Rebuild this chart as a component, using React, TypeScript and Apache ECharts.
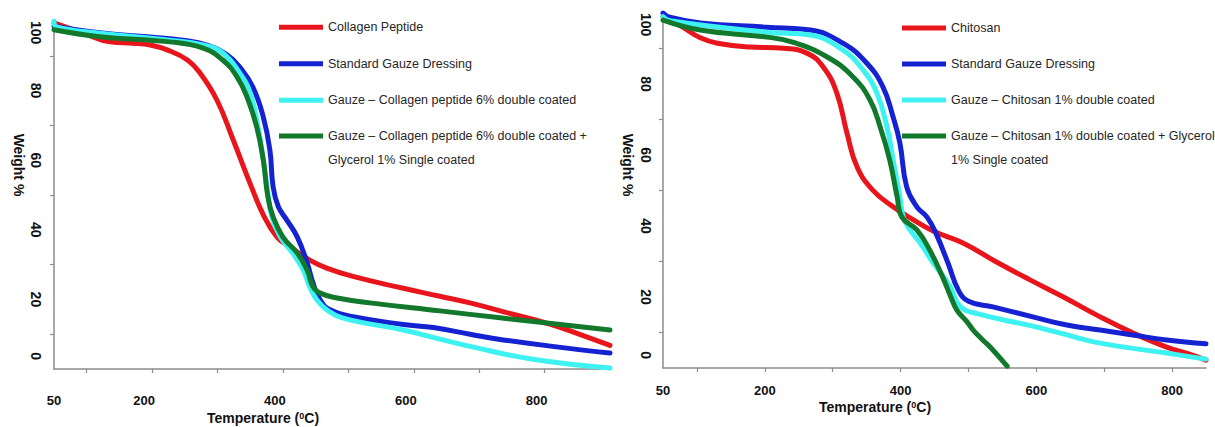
import React, { useEffect, useRef } from 'react';
import * as echarts from 'echarts';

type Pt = [number, number];

// ---- axis ticks / labels ----
const xLabelValues = [50, 200, 400, 600, 800];
const xTickValues = [100, 200, 300, 400, 500, 600, 700, 800];
const yLabelValues = [0, 20, 40, 60, 80, 100];
const yTickValues = [10, 30, 50, 70, 90];

// ---- series names ----
const leftNames = [
  'Collagen Peptide',
  'Standard Gauze Dressing',
  'Gauze – Collagen peptide 6% double coated',
  'Gauze – Collagen peptide 6% double coated + Glycerol 1% Single coated',
];
const rightNames = [
  'Chitosan',
  'Standard Gauze Dressing',
  'Gauze – Chitosan 1% double coated',
  'Gauze – Chitosan 1% double coated + Glycerol 1% Single coated',
];
const leftGreenLines = ['Gauze – Collagen peptide 6% double coated +', 'Glycerol 1% Single coated'];
const rightGreenLines = ['Gauze – Chitosan 1% double coated + Glycerol', '1% Single coated'];

// ---- left chart: Collagen peptide (temperature °C, weight %) ----
const leftRed: Pt[] = [
  [50, 99.5], [94, 96.6], [136, 94.0], [171, 93.6], [197, 93.1], [223, 91.7], [254, 88.8],
  [273, 85.1], [299, 77.3], [324, 65.8], [350, 53.2], [370, 44.3], [391, 37.9], [411, 35.1],
  [441, 31.3], [467, 29.0], [507, 26.6], [584, 23.2], [640, 20.9], [686, 19.0], [750, 15.8],
  [808, 12.9], [860, 9.5], [900, 6.8],
];
const leftBlue: Pt[] = [
  [50, 98.5], [120, 96.6], [197, 95.4], [247, 94.5], [284, 93.1], [315, 90.2], [334, 86.8],
  [354, 81.0], [370, 72.4], [380, 63.0], [385, 52.3], [393, 46.6], [406, 42.8], [422, 37.9],
  [437, 30.5], [446, 24.7], [457, 19.8], [472, 17.0], [507, 15.0], [584, 12.8], [630, 11.9],
  [686, 10.0], [732, 8.5], [834, 6.0], [900, 4.6],
];
const leftCyan: Pt[] = [
  [50, 100], [54, 98.3], [120, 96.5], [227, 94.5], [278, 93.1], [308, 90.8], [334, 85.0],
  [350, 79.3], [362, 69.5], [370, 60.0], [377, 50.6], [383, 43.7], [396, 37.9], [415, 33.3],
  [431, 28.4], [441, 23.6], [452, 19.8], [467, 17.0], [492, 14.6], [584, 11.2], [640, 8.6],
  [686, 6.5], [782, 2.8], [900, 0.3],
];
const leftGreen: Pt[] = [
  [50, 97.5], [120, 95.5], [227, 94.0], [278, 92.2], [308, 88.8], [330, 83.9], [345, 78.2],
  [360, 69.5], [370, 60.0], [377, 49.4], [385, 43.7], [400, 37.9], [422, 33.3], [437, 28.4],
  [446, 23.6], [457, 21.8], [483, 20.4], [533, 19.0], [640, 16.7], [732, 14.7], [834, 12.6],
  [900, 11.2],
];

// ---- right chart: Chitosan ----
const rightRed: Pt[] = [
  [50, 99], [79, 96], [105, 93], [130, 91.5], [178, 90.4], [227, 90.1], [262, 88.7],
  [286, 84.8], [306, 77.5], [321, 66.2], [336, 56.6], [359, 50.1], [389, 45.4], [414, 42.3],
  [448, 38.6], [492, 35.2], [540, 30.0], [590, 24.9], [640, 20.0], [694, 14.4], [742, 9.9],
  [792, 5.9], [830, 3.6], [850, 2.2],
];
const rightBlue: Pt[] = [
  [50, 100], [60, 98.8], [105, 97.2], [203, 96.0], [267, 95.2], [315, 91.5], [350, 85.9],
  [374, 79.2], [389, 70.7], [399, 63.4], [409, 51.0], [424, 45.4], [439, 42.5], [452, 38.0],
  [470, 29.5], [485, 22.0], [500, 18.8], [536, 17.2], [595, 14.4], [645, 12.1], [694, 10.7],
  [742, 9.3], [792, 7.9], [850, 6.8],
];
const rightCyan: Pt[] = [
  [50, 99], [60, 97.8], [203, 94.6], [267, 93.8], [315, 89.6], [345, 83.9], [365, 77.5],
  [380, 67.9], [389, 58.6], [399, 48.2], [404, 42.5], [414, 38.9], [429, 35.2], [448, 29.6],
  [473, 23.0], [487, 17.5], [513, 15.3], [590, 12.0], [640, 9.6], [694, 7.0], [792, 4.2],
  [850, 2.5],
];
const rightGreen: Pt[] = [
  [50, 98], [105, 95.2], [203, 93.2], [241, 91.8], [292, 87.6], [330, 82.0], [355, 75.5],
  [370, 67.9], [384, 58.6], [395, 48.2], [402, 42.5], [424, 38.9], [443, 33.2], [462, 25.6],
  [473, 20.5], [483, 16.3], [498, 13.0], [507, 10.7], [521, 7.9], [532, 5.9], [557, 0.5],
];

const colors = ['#e8161c', '#1422d2', '#3ef2f2', '#12782c'];
const FONT = '"Liberation Sans", Arial, sans-serif';
const AXIS_COLOR = '#8c8c8c';

export default function App() {
  const ref = useRef<HTMLDivElement>(null);

  useEffect(() => {
    document.body.style.margin = '0';
    if (!ref.current) return;
    const chart = echarts.init(ref.current, undefined, { renderer: 'svg' });

    const labelFont = { fontWeight: 'bold', color: '#111', fontFamily: FONT } as const;

    const xAxis = (
      gridIndex: number, max: number, labelMargin: number, nameGap: number,
      namePadRight: number, labelShift: number,
    ) => ({
      type: 'value',
      gridIndex,
      min: 50,
      max,
      splitLine: { show: false },
      axisLine: { show: true, lineStyle: { color: AXIS_COLOR, width: 1.5 } },
      axisTick: { show: true, customValues: xTickValues, length: 4, lineStyle: { color: AXIS_COLOR, width: 1.2 } },
      axisLabel: {
        customValues: xLabelValues,
        margin: labelMargin,
        fontSize: 13,
        ...labelFont,
        showMinLabel: true,
        showMaxLabel: true,
        formatter: (v: number) => (v === 50 ? `{a|${v}}` : `{b|${v}}`),
        rich: {
          a: { fontSize: 13, ...labelFont },
          b: { fontSize: 13, ...labelFont, padding: [0, labelShift, 0, 0] },
        },
      },
      name: 'Temperature ({sup|0}C)',
      nameLocation: 'middle',
      nameGap,
      nameMoveOverlap: false,
      nameTextStyle: {
        fontSize: 14,
        ...labelFont,
        padding: [0, namePadRight, 0, 0],
        rich: {
          sup: { fontSize: 9, ...labelFont, verticalAlign: 'top', lineHeight: 10 },
        },
      },
    });

    const yAxis = (gridIndex: number, labelMargin: number, namePadRight: number) => ({
      type: 'value',
      gridIndex,
      min: 0,
      max: 100,
      splitLine: { show: false },
      axisLine: { show: true, lineStyle: { color: AXIS_COLOR, width: 1.5 } },
      axisTick: { show: true, customValues: yTickValues, length: 4, lineStyle: { color: AXIS_COLOR, width: 1.2 } },
      axisLabel: {
        customValues: yLabelValues,
        rotate: -90,
        margin: labelMargin,
        fontSize: 14,
        ...labelFont,
        showMinLabel: true,
        showMaxLabel: true,
        alignMinLabel: 'right',
        alignMaxLabel: 'left',
        formatter: (v: number) => (v === 0 ? `{z|${v}}` : `{n|${v}}`),
        rich: {
          z: { fontSize: 14, ...labelFont, padding: [0, 9, 0, 0] },
          n: { fontSize: 14, ...labelFont },
        },
      },
      name: 'Weight %',
      nameLocation: 'middle',
      nameRotate: -90,
      nameGap: 28,
      nameMoveOverlap: false,
      nameTextStyle: {
        fontSize: 14,
        ...labelFont,
        padding: [0, namePadRight, 0, 0],
      },
    });

    const line = (name: string, data: Pt[], idx: number, color: string) => ({
      type: 'line',
      name,
      data,
      xAxisIndex: idx,
      yAxisIndex: idx,
      showSymbol: false,
      smooth: 0.45,
      color,
      lineStyle: { width: 5, color, cap: 'round', join: 'round' },
    });

    const legendText = (lineHeight: number) => ({
      fontSize: 12.5,
      fontFamily: FONT,
      color: '#262626',
      lineHeight,
    });

    const legendBase = {
      orient: 'vertical',
      icon: 'rect',
      itemWidth: 44,
      itemHeight: 5,
      padding: 0,
      selectedMode: false,
    };

    chart.setOption({
      animation: false,
      backgroundColor: '#ffffff',
      grid: [
        { left: 54, top: 21, width: 556, height: 348, outerBoundsMode: 'none' },
        { left: 663, top: 13, width: 543, height: 355, outerBoundsMode: 'none' },
      ],
      xAxis: [xAxis(0, 900, 25, 42, 138, 16), xAxis(1, 850, 16, 32, 119, 0)],
      yAxis: [yAxis(0, 11, 60), yAxis(1, 10, 51)],
      legend: [
        { ...legendBase, left: 279, top: 19.3, itemGap: 20.5, data: leftNames.slice(0, 3), textStyle: legendText(16) },
        {
          ...legendBase, left: 279, top: 100, data: [leftNames[3]], textStyle: legendText(24),
          formatter: () => '\n' + leftGreenLines.join('\n'),
        },
        { ...legendBase, left: 902, top: 20, itemGap: 20, data: rightNames.slice(0, 3), textStyle: legendText(16) },
        {
          ...legendBase, left: 902, top: 100, data: [rightNames[3]], textStyle: legendText(24),
          formatter: () => '\n' + rightGreenLines.join('\n'),
        },
      ],
      series: [
        line(leftNames[0], leftRed, 0, colors[0]),
        line(leftNames[1], leftBlue, 0, colors[1]),
        line(leftNames[2], leftCyan, 0, colors[2]),
        line(leftNames[3], leftGreen, 0, colors[3]),
        line(rightNames[0], rightRed, 1, colors[0]),
        line(rightNames[1], rightBlue, 1, colors[1]),
        line(rightNames[2], rightCyan, 1, colors[2]),
        line(rightNames[3], rightGreen, 1, colors[3]),
      ],
    });

    return () => {
      chart.dispose();
    };
  }, []);

  return <div ref={ref} style={{ width: 1215, height: 427 }} />;
}
